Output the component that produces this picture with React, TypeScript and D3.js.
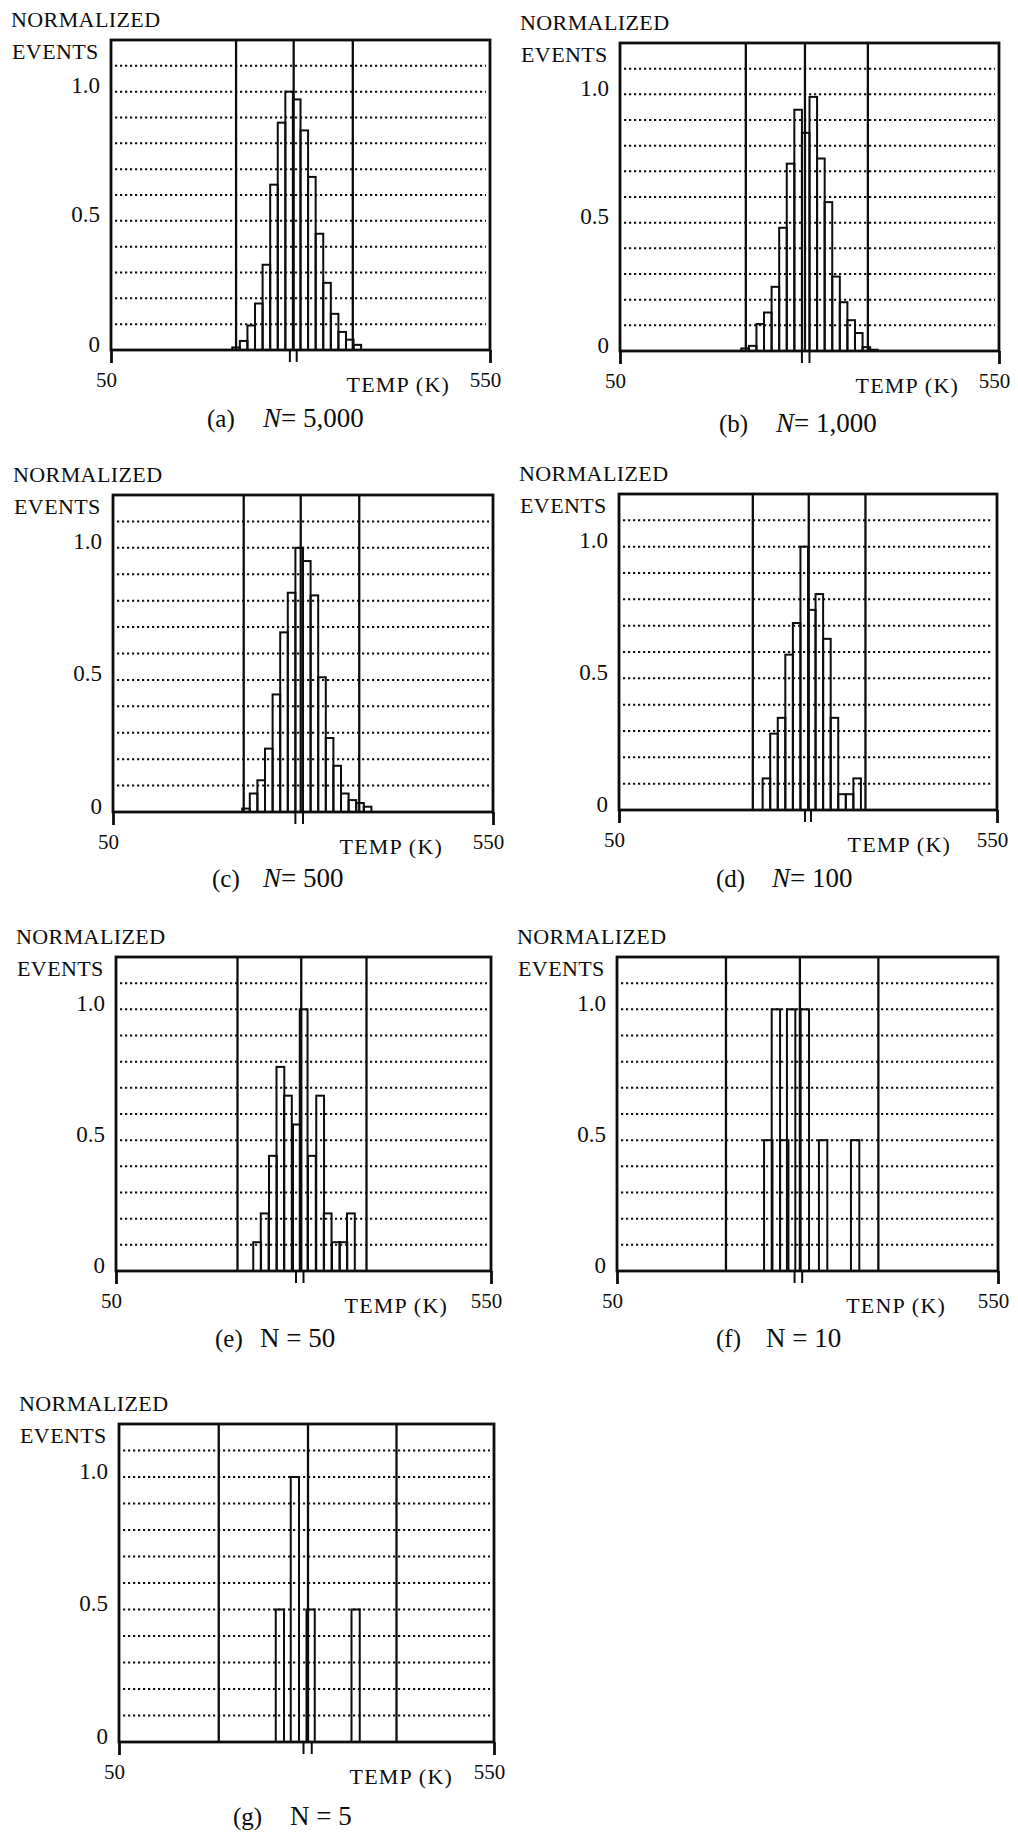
import React, { useRef, useEffect } from 'react';
import * as d3 from 'd3';

// histogram bins: lower edge of each bin (K) and normalized event count
const binsA = [210, 220, 230, 240, 250, 260, 270, 280, 290, 300, 310, 320, 330, 340, 350, 360, 370];
const valuesA = [0.01, 0.035, 0.095, 0.18, 0.33, 0.64, 0.88, 1.0, 0.97, 0.85, 0.67, 0.45, 0.26, 0.14, 0.07, 0.04, 0.02];

const binsB = [210, 220, 230, 240, 250, 260, 270, 280, 290, 300, 310, 320, 330, 340, 350, 360, 370, 380];
const valuesB = [0.01, 0.02, 0.105, 0.15, 0.25, 0.48, 0.73, 0.94, 0.85, 0.99, 0.75, 0.58, 0.29, 0.19, 0.12, 0.07, 0.015, 0.005];

const binsC = [220, 230, 240, 250, 260, 270, 280, 290, 300, 310, 320, 330, 340, 350, 360, 370, 380];
const valuesC = [0.013, 0.07, 0.12, 0.24, 0.445, 0.68, 0.83, 1.0, 0.95, 0.82, 0.51, 0.28, 0.175, 0.07, 0.045, 0.034, 0.02];

const binsD = [240, 250, 260, 270, 280, 290, 300, 310, 320, 330, 340, 350, 360];
const valuesD = [0.12, 0.29, 0.35, 0.59, 0.71, 1.0, 0.76, 0.82, 0.65, 0.35, 0.06, 0.06, 0.12];

const binsE = [233, 243, 254, 264, 274, 286, 295, 306, 317, 327, 338, 348, 358];
const valuesE = [0.11, 0.22, 0.44, 0.78, 0.67, 0.56, 1.0, 0.44, 0.67, 0.22, 0.11, 0.11, 0.22];

const binsF = [243, 253, 264, 273, 291, 315, 357];
const valuesF = [0.5, 1.0, 0.5, 1.0, 1.0, 0.5, 0.5];

const binsG = [259, 279, 300, 360];
const valuesG = [0.5, 1.0, 0.5, 0.5];

// vertical reference lines (K) and the pair of marks under the axis
const linesA = [215, 291, 369];
const linesB = [216, 294, 377];
const linesC = [222, 297, 374];
const linesD = [227, 301, 376];
const linesE = [212, 297, 384];
const linesF = [193, 290, 393];
const linesG = [183, 302, 420];

const marksA = [286, 295];
const marksB = [290, 300];
const marksC = [290, 300];
const marksD = [296, 304];
const marksE = [290, 300];
const marksF = [283, 293];
const marksG = [296, 307];

const gridValues = [0.1, 0.2, 0.3, 0.4, 0.5, 0.6, 0.7, 0.8, 0.9, 1.0, 1.1];
const yTicks = [0, 0.5, 1.0];
const xTicks = [50, 550];

const panels = [
  { tag: '(a)', n: '5,000', italic: true, x: 111, y: 40, w: 379, h: 310, bins: binsA, values: valuesA, bw: 10, lines: linesA, marks: marksA, xlab: 'TEMP (K)', xlabEnd: 40, capX: 207, nX: 263, capY: 427 },
  { tag: '(b)', n: '1,000', italic: true, x: 620, y: 43, w: 379, h: 308, bins: binsB, values: valuesB, bw: 10, lines: linesB, marks: marksB, xlab: 'TEMP (K)', xlabEnd: 40, capX: 719, nX: 776, capY: 432 },
  { tag: '(c)', n: '500', italic: true, x: 113, y: 495, w: 380, h: 317, bins: binsC, values: valuesC, bw: 10, lines: linesC, marks: marksC, xlab: 'TEMP (K)', xlabEnd: 50, capX: 212, nX: 263, capY: 887 },
  { tag: '(d)', n: '100', italic: true, x: 619, y: 494, w: 378, h: 316, bins: binsD, values: valuesD, bw: 10, lines: linesD, marks: marksD, xlab: 'TEMP (K)', xlabEnd: 46, capX: 716, nX: 772, capY: 887 },
  { tag: '(e)', n: '50', italic: false, x: 116, y: 957, w: 375, h: 314, bins: binsE, values: valuesE, bw: 10.4, lines: linesE, marks: marksE, xlab: 'TEMP (K)', xlabEnd: 43, capX: 215, nX: 260, capY: 1347 },
  { tag: '(f)', n: '10', italic: false, x: 617, y: 957, w: 381, h: 314, bins: binsF, values: valuesF, bw: 11, lines: linesF, marks: marksF, xlab: 'TENP (K)', xlabEnd: 52, capX: 716, nX: 766, capY: 1347 },
  { tag: '(g)', n: '5', italic: false, x: 119, y: 1424, w: 375, h: 318, bins: binsG, values: valuesG, bw: 11, lines: linesG, marks: marksG, xlab: 'TEMP (K)', xlabEnd: 41, capX: 233, nX: 290, capY: 1825 },
];

const FONT = '"Liberation Serif", "Times New Roman", serif';
const INK = '#0d0d0d';

const App = () => {
  const ref = useRef<SVGSVGElement>(null);

  useEffect(() => {
    const svg = d3.select(ref.current);
    svg.selectAll('*').remove();
    svg.append('rect').attr('width', 1018).attr('height', 1834).attr('fill', '#fff');

    panels.forEach((p) => {
      const base = p.y + p.h;
      const x = d3.scaleLinear().domain([50, 550]).range([p.x, p.x + p.w]);
      const y = d3.scaleLinear().domain([0, 1.2]).range([base, p.y]);
      const g = svg.append('g').attr('font-family', FONT).attr('fill', INK);

      // dotted grid
      g.selectAll('.grid')
        .data(gridValues)
        .enter()
        .append('line')
        .attr('x1', p.x + 4)
        .attr('x2', p.x + p.w - 4)
        .attr('y1', (d) => y(d))
        .attr('y2', (d) => y(d))
        .attr('stroke', INK)
        .attr('stroke-width', 2)
        .attr('stroke-dasharray', '2.2 2.8');

      // reference lines
      g.selectAll('.ref')
        .data(p.lines)
        .enter()
        .append('line')
        .attr('x1', (d) => x(d))
        .attr('x2', (d) => x(d))
        .attr('y1', y(0))
        .attr('y2', p.y)
        .attr('stroke', INK)
        .attr('stroke-width', 2.3);

      // histogram bars
      g.selectAll('.bar')
        .data(p.values)
        .enter()
        .append('rect')
        .attr('x', (_, i) => x(p.bins[i]))
        .attr('width', (_, i) => x(p.bins[i] + p.bw) - x(p.bins[i]))
        .attr('y', (d) => y(d))
        .attr('height', (d) => y(0) - y(d))
        .attr('fill', 'none')
        .attr('stroke', INK)
        .attr('stroke-width', 2);

      // frame
      g.append('rect')
        .attr('x', p.x)
        .attr('y', p.y)
        .attr('width', p.w)
        .attr('height', p.h)
        .attr('fill', 'none')
        .attr('stroke', INK)
        .attr('stroke-width', 2.8);

      // marks under the axis
      g.selectAll('.mark')
        .data(p.marks)
        .enter()
        .append('line')
        .attr('x1', (d) => x(d))
        .attr('x2', (d) => x(d))
        .attr('y1', base)
        .attr('y2', base + 12)
        .attr('stroke', INK)
        .attr('stroke-width', 2);

      // x axis ends
      const xAxis = g
        .append('g')
        .attr('transform', `translate(0,${base})`)
        .call(d3.axisBottom(x).tickValues(xTicks).tickSize(13).tickFormat(d3.format('d')));
      xAxis.select('.domain').remove();
      xAxis.selectAll('line').attr('stroke', INK).attr('stroke-width', 2.8);
      xAxis
        .selectAll('text')
        .attr('y', 37)
        .attr('dy', 0)
        .attr('x', -5)
        .attr('fill', INK)
        .attr('font-family', FONT)
        .attr('font-size', 21);

      // y axis labels
      const yAxis = g
        .append('g')
        .attr('transform', `translate(${p.x},0)`)
        .call(
          d3
            .axisLeft(y)
            .tickValues(yTicks)
            .tickSize(0)
            .tickPadding(11)
            .tickFormat((d) => (+d === 0 ? '0' : d3.format('.1f')(+d)))
        );
      yAxis.select('.domain').remove();
      yAxis
        .selectAll('text')
        .attr('dy', 1)
        .attr('fill', INK)
        .attr('font-family', FONT)
        .attr('font-size', 23);

      // axis titles
      g.append('text')
        .attr('x', p.x - 100)
        .attr('y', p.y - 13)
        .attr('font-size', 22)
        .attr('letter-spacing', 0.4)
        .text('NORMALIZED');
      g.append('text')
        .attr('x', p.x - 99)
        .attr('y', p.y + 19)
        .attr('font-size', 22)
        .attr('letter-spacing', 0.4)
        .text('EVENTS');
      g.append('text')
        .attr('x', p.x + p.w - p.xlabEnd)
        .attr('y', base + 42)
        .attr('text-anchor', 'end')
        .attr('font-size', 22)
        .attr('letter-spacing', 1.2)
        .text(p.xlab);

      // caption
      g.append('text')
        .attr('x', p.capX)
        .attr('y', p.capY)
        .attr('font-size', 25)
        .text(p.tag);
      const cap = g.append('text').attr('x', p.nX).attr('y', p.capY).attr('font-size', 27);
      cap.append('tspan').attr('font-style', p.italic ? 'italic' : 'normal').text('N');
      cap.append('tspan').text(p.italic ? '= ' : ' = ');
      cap.append('tspan').text(p.n);
    });
  }, []);

  return <svg ref={ref} width={1018} height={1834} style={{ position: 'absolute', left: 0, top: 0 }} />;
};

export default App;
